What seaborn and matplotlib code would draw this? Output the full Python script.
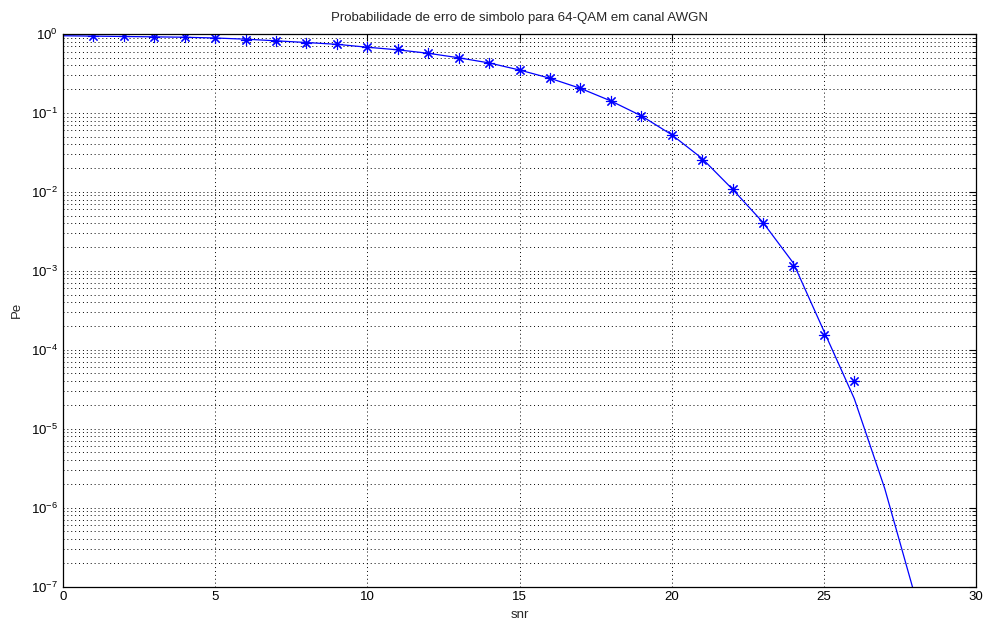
import numpy as np
import pandas as pd
import matplotlib
matplotlib.use("Agg")
import matplotlib.pyplot as plt
import seaborn as sns
from matplotlib.ticker import LogLocator, NullFormatter

# theoretical curve
snr_theory = [0, 1, 2, 3, 4, 5, 6, 7, 8, 9, 10, 11, 12, 13, 14, 15, 16, 17, 18, 19,
              20, 21, 22, 23, 24, 25, 26, 27, 28]
pe_theory = [0.95, 0.94, 0.93, 0.92, 0.91, 0.89, 0.86, 0.82, 0.78, 0.74, 0.68, 0.63,
             0.57, 0.50, 0.43, 0.35, 0.275, 0.205, 0.142, 0.092, 0.053, 0.0265, 0.0108,
             0.0041, 0.00125, 1.73e-4, 2.4e-5, 1.75e-6, 7.5e-8]

# simulated points
snr_sim = [1, 2, 3, 4, 5, 6, 7, 8, 9, 10, 11, 12, 13, 14, 15, 16, 17, 18, 19, 20,
           21, 22, 23, 24, 25, 26]
pe_sim = [0.93, 0.93, 0.92, 0.91, 0.89, 0.85, 0.82, 0.78, 0.75, 0.68, 0.64, 0.575,
          0.50, 0.43, 0.35, 0.277, 0.207, 0.142, 0.0916, 0.0527, 0.0254, 0.0108,
          0.00402, 0.00116, 1.52e-4, 3.97e-5]

x_ticks = [0, 5, 10, 15, 20, 25, 30]

title_text = "Probabilidade de erro de simbolo para 64-QAM em canal AWGN"

sns.set_theme(style="white")
plt.rcParams["font.family"] = ["Liberation Sans", "DejaVu Sans"]
plt.rcParams["mathtext.fontset"] = "custom"
plt.rcParams["mathtext.rm"] = "Liberation Sans"
plt.rcParams["mathtext.it"] = "Liberation Sans"

df_t = pd.DataFrame({"snr": snr_theory, "pe": pe_theory})
df_s = pd.DataFrame({"snr": snr_sim, "pe": pe_sim})

fig = plt.figure(figsize=(9.85, 6.23), dpi=100)
ax = fig.add_axes([63 / 985, 1 - 586.5 / 623, (976 - 63) / 985, (586.5 - 34) / 623])

sns.lineplot(data=df_t, x="snr", y="pe", ax=ax, color=(0, 0, 1), linewidth=0.9)
sns.lineplot(data=df_s, x="snr", y="pe", ax=ax, color=(0, 0, 1), linestyle="",
             marker=(8, 2, 0), markersize=8, markeredgewidth=0.8,
             markeredgecolor=(0, 0, 1))

ax.set_yscale("log")
ax.set_xlim(0, 30)
ax.set_ylim(1e-7, 1)
ax.set_xticks(x_ticks)
ax.yaxis.set_major_locator(LogLocator(base=10, numticks=20))
ax.yaxis.set_minor_locator(LogLocator(base=10, subs=np.arange(2, 10), numticks=100))
ax.yaxis.set_minor_formatter(NullFormatter())

grid_style = dict(linestyle=(0, (1, 3)), color="black", linewidth=0.7)
ax.grid(True, which="major", axis="both", **grid_style)
ax.grid(True, which="minor", axis="y", **grid_style)

ax.tick_params(axis="both", which="both", direction="in", top=True, right=True,
               labelsize=9.5, colors="black")
ax.tick_params(which="major", length=5, width=0.8)
ax.tick_params(which="minor", length=3, width=0.6)
ax.tick_params(axis="x", which="minor", top=False, bottom=False)

for s in ax.spines.values():
    s.set_color("black")
    s.set_linewidth(0.9)

ax.set_xlabel("snr", fontsize=9.5, labelpad=4)
ax.set_ylabel("Pe", fontsize=9.5, labelpad=6)
ax.set_title(title_text, fontsize=9.5, pad=9)

fig.savefig("out.png", dpi=100, facecolor="white")
